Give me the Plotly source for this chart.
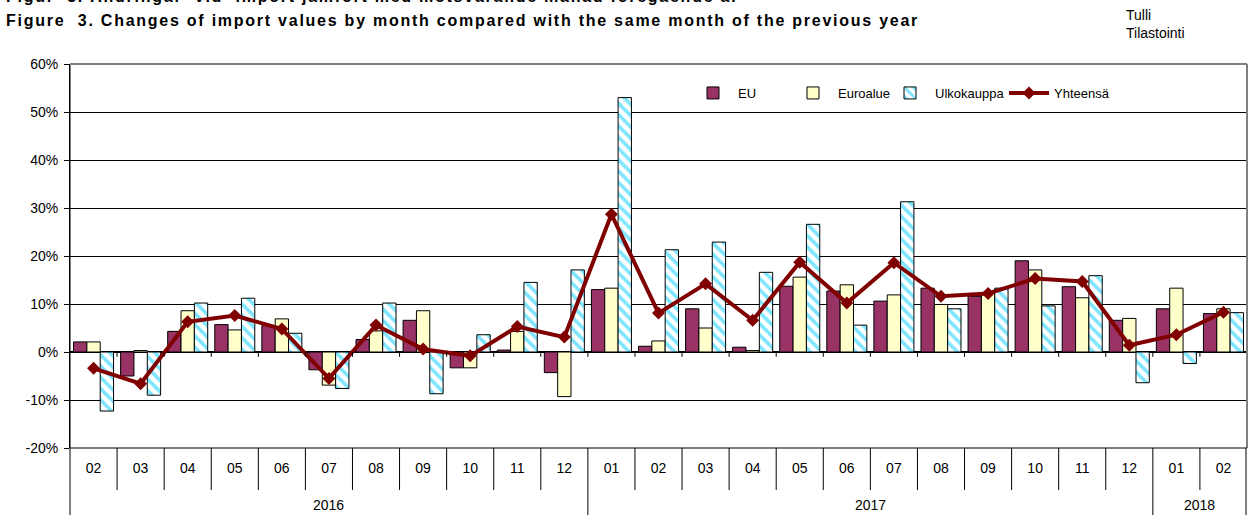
import plotly.graph_objects as go

# ---------------- data ----------------
months = ["02", "03", "04", "05", "06", "07", "08", "09", "10", "11", "12",
          "01", "02", "03", "04", "05", "06", "07", "08", "09", "10", "11", "12",
          "01", "02"]
years = ["2016"] * 11 + ["2017"] * 12 + ["2018"] * 2
year_labels = ["2016", "2017", "2018"]

eu = [2.1, -5.0, 4.3, 5.7, 5.5, -3.7, 2.6, 6.6, -3.3, 0.4, -4.3,
      13.0, 1.2, 9.0, 1.0, 13.7, 12.7, 10.6, 13.3, 11.6, 19.0, 13.6, 6.6,
      9.0, 8.0]
euroalue = [2.1, 0.3, 8.6, 4.6, 6.9, -6.9, 4.4, 8.6, -3.3, 4.3, -9.3,
            13.3, 2.3, 5.0, 0.3, 15.6, 14.0, 11.9, 9.9, 12.4, 17.1, 11.3, 7.0,
            13.3, 9.0]
ulkokauppa = [-12.3, -9.0, 10.2, 11.2, 3.9, -7.6, 10.2, -8.7, 3.6, 14.5, 17.1,
              53.0, 21.3, 22.9, 16.6, 26.6, 5.6, 31.3, 9.0, 13.3, 9.6, 15.9, -6.4,
              -2.4, 8.2]
yhteensa = [-3.4, -6.6, 6.3, 7.6, 4.8, -5.5, 5.6, 0.6, -0.8, 5.3, 3.1,
            28.7, 8.1, 14.2, 6.6, 18.7, 10.2, 18.6, 11.6, 12.2, 15.3, 14.7, 1.4,
            3.6, 8.3]

series_names = ["EU", "Euroalue", "Ulkokauppa", "Yhteensä"]
y_tick_vals = [-20, -10, 0, 10, 20, 30, 40, 50, 60]
y_tick_text = ["-20%", "-10%", "0%", "10%", "20%", "30%", "40%", "50%", "60%"]
title_sv = "Figur  3. Ändringar  vid  import jämfört med motsvarande månad föregående år"
title_en = "Figure  3. Changes of import values by month compared with the same month of the previous year"
source_text = "Tulli<br>Tilastointi"

cats = [f"{y}-{m}" for y, m in zip(years, months)]

FONT = "Arial, Liberation Sans, sans-serif"

# plot area geometry (pixels)
W, H = 1250, 515
L, R, T, B = 70, 3, 64, 67
PW, PH = W - L - R, H - T - B


def px_x(p):
    return (p - L) / PW


def px_y(p):
    return (H - B - p) / PH


fig = go.Figure()
fig.add_trace(go.Bar(
    x=cats, y=eu, name=series_names[0], legend="legend",
    marker=dict(color="#993366", line=dict(color="black", width=1)),
))
fig.add_trace(go.Bar(
    x=cats, y=euroalue, name=series_names[1], legend="legend2",
    marker=dict(color="#FFFFCC", line=dict(color="black", width=1)),
))
fig.add_trace(go.Bar(
    x=cats, y=ulkokauppa, name=series_names[2], legend="legend3",
    marker=dict(color="white", line=dict(color="black", width=1),
                pattern=dict(shape="\\", fgcolor="#00CCFF", bgcolor="white",
                             size=8, solidity=0.45, fillmode="overlay")),
))
fig.add_trace(go.Scatter(
    x=cats, y=yhteensa, name=series_names[3], mode="lines+markers", legend="legend4",
    line=dict(color="#800000", width=4),
    marker=dict(symbol="diamond", size=10, color="#800000"),
))

n = len(cats)
shapes = []
for i in range(1, n):
    is_year_break = years[i] != years[i - 1]
    shapes.append(dict(type="line", xref="x", yref="paper",
                       x0=i - 0.5, x1=i - 0.5, y0=0,
                       y1=px_y(H + 5) if is_year_break else px_y(490),
                       line=dict(color="black", width=1)))
    shapes.append(dict(type="line", xref="x", yref="y",
                       x0=i - 0.5, x1=i - 0.5, y0=0, y1=-1,
                       line=dict(color="black", width=1)))
shapes.append(dict(type="line", xref="paper", yref="paper", x0=0, x1=0, y0=1, y1=px_y(H + 5),
                   line=dict(color="black", width=1)))
shapes.append(dict(type="line", xref="paper", yref="paper", x0=1, x1=1, y0=1, y1=0,
                   line=dict(color="#808080", width=2)))
shapes.append(dict(type="line", xref="paper", yref="paper", x0=px_x(W - 4), x1=px_x(W - 4),
                   y0=0, y1=px_y(H + 5), line=dict(color="black", width=1)))
shapes.append(dict(type="line", xref="paper", yref="paper", x0=0, x1=1, y0=1, y1=1,
                   line=dict(color="#808080", width=2)))
shapes.append(dict(type="line", xref="paper", yref="paper", x0=0, x1=1, y0=0, y1=0,
                   line=dict(color="black", width=1)))

annotations = []
for yl in year_labels:
    idx = [i for i, y in enumerate(years) if y == yl]
    annotations.append(dict(x=(idx[0] + idx[-1]) / 2, y=px_y(505), xref="x", yref="paper",
                            text=yl, showarrow=False, yanchor="middle",
                            font=dict(family=FONT, size=14, color="black")))

annotations.append(dict(text="<b><span style='letter-spacing:1.75px'>" + title_sv + "</span></b>",
                        xref="paper", yref="paper", x=px_x(4), y=px_y(-3),
                        xanchor="left", yanchor="middle", showarrow=False,
                        font=dict(family=FONT, size=16, color="black")))
annotations.append(dict(text="<b><span style='letter-spacing:1.75px'>" + title_en + "</span></b>",
                        xref="paper", yref="paper", x=px_x(4), y=px_y(20),
                        xanchor="left", yanchor="middle", showarrow=False,
                        font=dict(family=FONT, size=16, color="black")))
annotations.append(dict(text=source_text, xref="paper", yref="paper",
                        x=px_x(1124), y=px_y(24), xanchor="left", yanchor="middle",
                        align="left", showarrow=False,
                        font=dict(family=FONT, size=14, color="black")))


def legend_at(xpix):
    return dict(orientation="h", x=px_x(xpix), y=px_y(78), xanchor="left", yanchor="top",
                itemwidth=40, bgcolor="rgba(0,0,0,0)",
                font=dict(family=FONT, size=13, color="black"))


fig.update_layout(
    width=W, height=H,
    margin=dict(l=L, r=R, t=T, b=B, autoexpand=False),
    paper_bgcolor="white", plot_bgcolor="white",
    barmode="group", bargap=0.15, bargroupgap=0,
    font=dict(family=FONT, size=14, color="black"),
    showlegend=True,
    legend=legend_at(688),
    legend2=legend_at(788),
    legend3=legend_at(885),
    legend4=legend_at(1004),
    shapes=shapes,
    annotations=annotations,
    xaxis=dict(type="category", categoryorder="array", categoryarray=cats,
               tickvals=cats, ticktext=months, showgrid=False, zeroline=False,
               showline=False, ticks="", ticklabelstandoff=10,
               tickfont=dict(family=FONT, size=14, color="black"),
               range=[-0.5, n - 0.5], fixedrange=True),
    yaxis=dict(range=[-20, 60], tickvals=y_tick_vals, ticktext=y_tick_text,
               showgrid=True, gridcolor="black", gridwidth=1,
               zeroline=True, zerolinecolor="black", zerolinewidth=2,
               showline=True, linecolor="black", linewidth=1,
               ticks="outside", ticklen=5, tickcolor="black", ticklabelstandoff=3,
               tickfont=dict(family=FONT, size=14, color="black")),
)

fig.write_html("out.html", config={"displayModeBar": False},
               post_script="document.body.style.margin='0';document.body.style.overflow='hidden';")
